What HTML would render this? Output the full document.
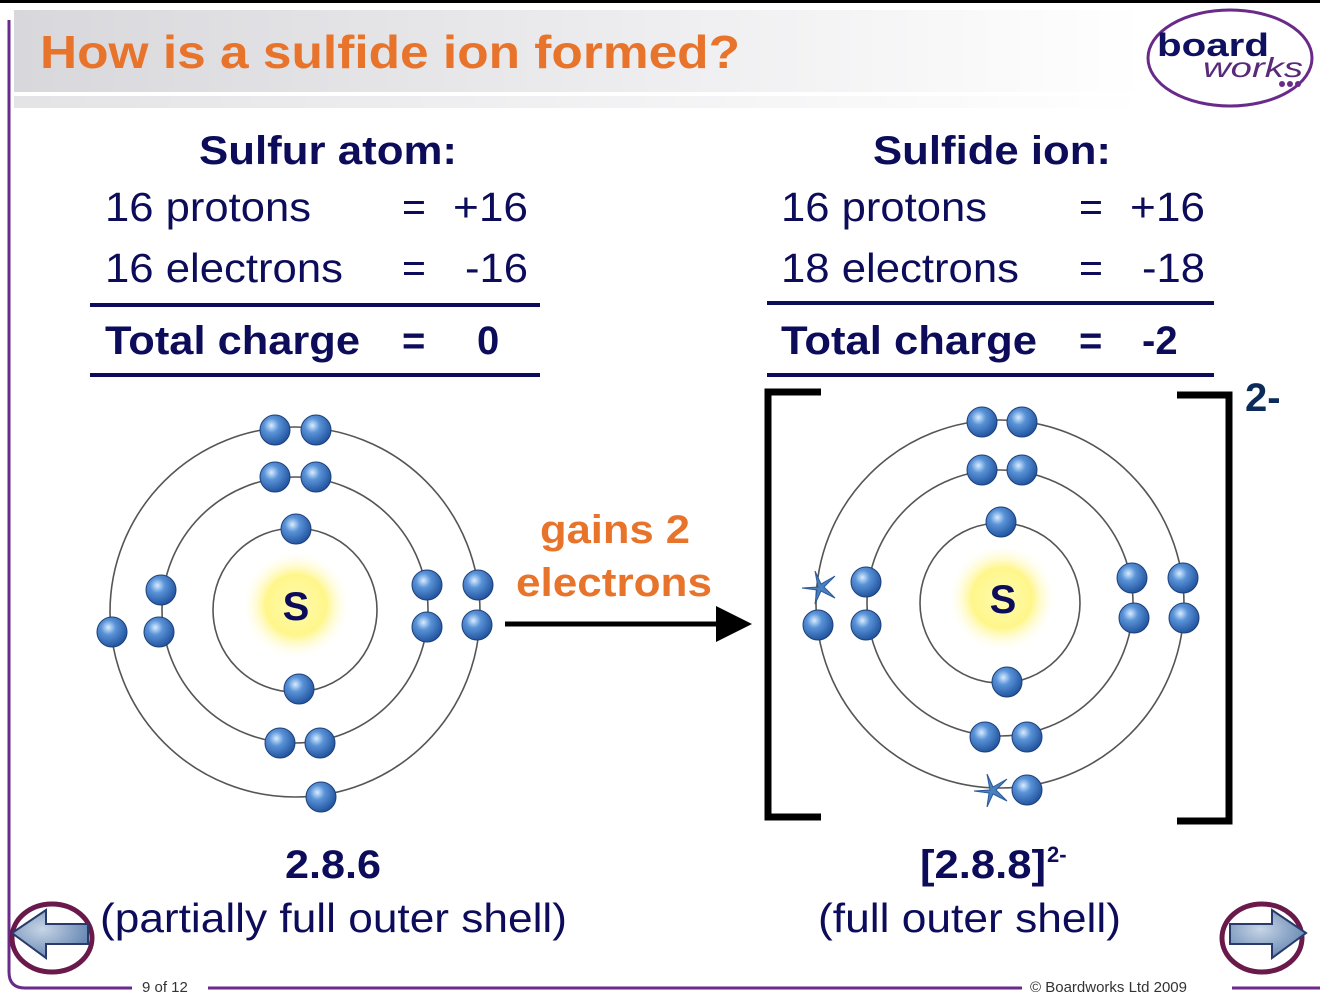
<!DOCTYPE html>
<html><head><meta charset="utf-8"><style>
html,body{margin:0;padding:0;background:#fff;}
svg{display:block;font-family:"Liberation Sans",Arial,sans-serif;}
</style></head><body>
<svg width="1320" height="992" viewBox="0 0 1320 992" xmlns="http://www.w3.org/2000/svg">
<defs>
<linearGradient id="hdr" x1="0" x2="1" y1="0" y2="0">
<stop offset="0" stop-color="#d8d8dc"/><stop offset="0.6" stop-color="#efeff1"/><stop offset="1" stop-color="#ffffff"/>
</linearGradient>
<radialGradient id="el" cx="0.38" cy="0.35" r="0.7">
<stop offset="0" stop-color="#d8ecff"/><stop offset="0.35" stop-color="#5a93d8"/><stop offset="1" stop-color="#1d4f9a"/>
</radialGradient>
<radialGradient id="nuc" cx="0.5" cy="0.5" r="0.5">
<stop offset="0" stop-color="#fffbb0"/><stop offset="0.55" stop-color="#fff68a"/><stop offset="1" stop-color="#ffffff" stop-opacity="0"/>
</radialGradient>
<radialGradient id="nav" cx="0.4" cy="0.4" r="0.6">
<stop offset="0" stop-color="#c7d5e6"/><stop offset="1" stop-color="#6b8bb5"/>
</radialGradient>
</defs>
<rect width="1320" height="992" fill="#fff"/>
<rect x="0" y="0" width="1320" height="3" fill="#000"/>
<rect x="14" y="10" width="1130" height="82" fill="url(#hdr)"/>
<rect x="14" y="96" width="1130" height="12" fill="url(#hdr)" opacity="0.7"/>
<text x="40" y="68" font-size="46" font-weight="bold" fill="#e8742c" textLength="700" lengthAdjust="spacingAndGlyphs">How is a sulfide ion formed?</text>
<ellipse cx="1230" cy="58" rx="82" ry="48" fill="#fff" stroke="#6a2a8a" stroke-width="3"/>
<text x="1157" y="56" font-size="32" font-weight="bold" fill="#101060" textLength="112" lengthAdjust="spacingAndGlyphs">board</text>
<text x="1203" y="77" font-size="28" font-style="italic" fill="#5a2a7a" textLength="100" lengthAdjust="spacingAndGlyphs">works</text>
<circle cx="1282" cy="84" r="3" fill="#6a2a8a"/><circle cx="1290" cy="84" r="3" fill="#6a2a8a"/><circle cx="1298" cy="84" r="3" fill="#6a2a8a"/>
<path d="M9 20 V972 Q9 988 25 988 H132" fill="none" stroke="#6a2a8a" stroke-width="3"/>
<line x1="208" y1="988" x2="1022" y2="988" stroke="#6a2a8a" stroke-width="3"/>
<line x1="1232" y1="988" x2="1320" y2="988" stroke="#6a2a8a" stroke-width="3"/>
<text x="142" y="992" font-size="15" fill="#333">9 of 12</text>
<text x="1030" y="992" font-size="15" fill="#333">© Boardworks Ltd 2009</text>
<g fill="#0c0c5a">
<text x="199" y="164" font-size="40" font-weight="bold" textLength="258" lengthAdjust="spacingAndGlyphs">Sulfur atom:</text>
<text x="105" y="221" font-size="41" textLength="206" lengthAdjust="spacingAndGlyphs">16 protons</text>
<text x="402" y="221" font-size="41">=</text>
<text x="453" y="221" font-size="41" textLength="75" lengthAdjust="spacingAndGlyphs">+16</text>
<text x="105" y="282" font-size="41" textLength="238" lengthAdjust="spacingAndGlyphs">16 electrons</text>
<text x="402" y="282" font-size="41">=</text>
<text x="465" y="282" font-size="41" textLength="63" lengthAdjust="spacingAndGlyphs">-16</text>
<text x="105" y="354" font-size="40" font-weight="bold" textLength="255" lengthAdjust="spacingAndGlyphs">Total charge</text>
<text x="402" y="354" font-size="40" font-weight="bold">=</text>
<text x="477" y="354" font-size="40" font-weight="bold">0</text>
<rect x="90" y="303" width="450" height="4"/>
<rect x="90" y="373" width="450" height="4"/>

<text x="873" y="164" font-size="40" font-weight="bold" textLength="238" lengthAdjust="spacingAndGlyphs">Sulfide ion:</text>
<text x="781" y="221" font-size="41" textLength="206" lengthAdjust="spacingAndGlyphs">16 protons</text>
<text x="1079" y="221" font-size="41">=</text>
<text x="1130" y="221" font-size="41" textLength="75" lengthAdjust="spacingAndGlyphs">+16</text>
<text x="781" y="282" font-size="41" textLength="238" lengthAdjust="spacingAndGlyphs">18 electrons</text>
<text x="1079" y="282" font-size="41">=</text>
<text x="1142" y="282" font-size="41" textLength="63" lengthAdjust="spacingAndGlyphs">-18</text>
<text x="781" y="354" font-size="40" font-weight="bold" textLength="256" lengthAdjust="spacingAndGlyphs">Total charge</text>
<text x="1079" y="354" font-size="40" font-weight="bold">=</text>
<text x="1142" y="354" font-size="40" font-weight="bold">-2</text>
<rect x="767" y="301" width="447" height="4"/>
<rect x="767" y="373" width="447" height="4"/>

<text x="285" y="878" font-size="40" font-weight="bold" textLength="96" lengthAdjust="spacingAndGlyphs">2.8.6</text>
<text x="100" y="932" font-size="41" textLength="467" lengthAdjust="spacingAndGlyphs">(partially full outer shell)</text>
<text x="920" y="878" font-size="40" font-weight="bold" textLength="126" lengthAdjust="spacingAndGlyphs">[2.8.8]</text>
<text x="1047" y="862" font-size="22" font-weight="bold">2-</text>
<text x="818" y="932" font-size="41" textLength="303" lengthAdjust="spacingAndGlyphs">(full outer shell)</text>
<text x="1245" y="411" font-size="40" font-weight="bold" fill="#0c2a5a">2-</text>
</g>
<g fill="none" stroke="#555" stroke-width="1.6">
<circle cx="295" cy="610" r="82"/><circle cx="295" cy="610" r="133"/><circle cx="295" cy="612" r="185"/>
<circle cx="1000" cy="603" r="80"/><circle cx="1000" cy="603" r="133"/><circle cx="1000" cy="604" r="184"/>
</g>
<circle cx="296" cy="605" r="55" fill="url(#nuc)"/>
<circle cx="1002" cy="598" r="55" fill="url(#nuc)"/>
<text x="296" y="620" font-size="40" font-weight="bold" fill="#0c0c5a" text-anchor="middle">S</text>
<text x="1003" y="613" font-size="40" font-weight="bold" fill="#0c0c5a" text-anchor="middle">S</text>
<g fill="url(#el)" stroke="#1d3f7a" stroke-width="1">
<circle cx="296" cy="529" r="15"/><circle cx="299" cy="689" r="15"/>
<circle cx="275" cy="477" r="15"/><circle cx="316" cy="477" r="15"/>
<circle cx="161" cy="590" r="15"/><circle cx="159" cy="632" r="15"/>
<circle cx="427" cy="585" r="15"/><circle cx="427" cy="627" r="15"/>
<circle cx="280" cy="743" r="15"/><circle cx="320" cy="743" r="15"/>
<circle cx="275" cy="430" r="15"/><circle cx="316" cy="430" r="15"/>
<circle cx="112" cy="632" r="15"/><circle cx="478" cy="585" r="15"/>
<circle cx="477" cy="625" r="15"/><circle cx="321" cy="797" r="15"/>
<circle cx="1001" cy="522" r="15"/><circle cx="1007" cy="682" r="15"/>
<circle cx="982" cy="470" r="15"/><circle cx="1022" cy="470" r="15"/>
<circle cx="866" cy="582" r="15"/><circle cx="866" cy="625" r="15"/>
<circle cx="1132" cy="578" r="15"/><circle cx="1134" cy="618" r="15"/>
<circle cx="985" cy="737" r="15"/><circle cx="1027" cy="737" r="15"/>
<circle cx="982" cy="422" r="15"/><circle cx="1022" cy="422" r="15"/>
<circle cx="818" cy="625" r="15"/><circle cx="1183" cy="578" r="15"/>
<circle cx="1184" cy="618" r="15"/><circle cx="1027" cy="790" r="15"/>
</g>
<g fill="#4a7fc0" stroke="#2a5a9a" stroke-width="1">
<path d="M818 587 m0 0 l-3 -16 l6 13 l14 -8 l-11 11 l11 11 l-14 -7 l-6 13 l2 -14 l-15 -2 z"/>
<path d="M990 790 m0 0 l-3 -16 l6 13 l14 -8 l-11 11 l11 11 l-14 -7 l-6 13 l2 -14 l-15 -2 z"/>
</g>
<path d="M821 392 H768 V817 H821" fill="none" stroke="#000" stroke-width="7"/>
<path d="M1177 395 H1229 V821 H1177" fill="none" stroke="#000" stroke-width="7"/>
<text x="540" y="543" font-size="40" font-weight="bold" fill="#e8742c" textLength="150" lengthAdjust="spacingAndGlyphs">gains 2</text>
<text x="516" y="596" font-size="40" font-weight="bold" fill="#e8742c" textLength="196" lengthAdjust="spacingAndGlyphs">electrons</text>
<line x1="505" y1="624" x2="720" y2="624" stroke="#000" stroke-width="5"/>
<polygon points="716,606 752,624 716,642" fill="#000"/>
<ellipse cx="52" cy="938" rx="40" ry="34" fill="#fff" stroke="#6a1a4a" stroke-width="5"/>
<polygon points="12,933 46,910 46,924 88,924 88,944 46,944 46,958" fill="url(#nav)" stroke="#2a3a6a" stroke-width="2"/>
<ellipse cx="1262" cy="938" rx="40" ry="34" fill="#fff" stroke="#6a1a4a" stroke-width="5"/>
<polygon points="1306,933 1272,910 1272,924 1230,924 1230,944 1272,944 1272,958" fill="url(#nav)" stroke="#2a3a6a" stroke-width="2"/>
</svg>
</body></html>
